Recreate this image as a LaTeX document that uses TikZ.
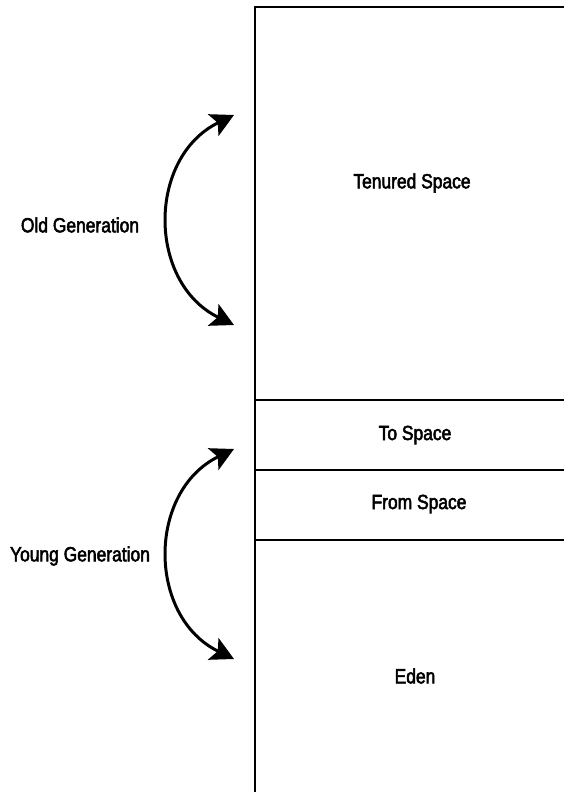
\documentclass[tikz,border=0pt]{standalone}
\usepackage{fontspec}
\setmainfont[FakeStretch=0.85, FakeBold=2.5]{Liberation Sans}
\usetikzlibrary{arrows.meta, positioning}

\begin{document}
\begin{tikzpicture}[
        x=1pt, y=-1pt,
        font=\fontsize{20.5}{24}\selectfont,
        >={Stealth[length=23pt, width=24pt, inset=5pt]},
        heap/.style={draw=black, line width=2pt},
        lbl/.style={inner sep=0pt, anchor=center},
        swing/.style={<->, line width=3pt, bend right=64, looseness=1.18}
    ]
        \useasboundingbox (0,0) rectangle (564,792);

        % heap outline, runs off the page right and below
        \draw[heap] (575,7.5) -- (254.5,7.5) -- (254.5,800);
        \draw[heap] (254.5,400) -- (575,400);
        \draw[heap] (254.5,470) -- (575,470);
        \draw[heap] (254.5,540) -- (575,540);

        \node[lbl] (tenured) at (412,183) {Tenured Space};
        \node[lbl] (toSpace) at (415,435) {To Space};
        \node[lbl] (fromSpace) at (419,504) {From Space};
        \node[lbl] (eden) at (415,676) {Eden};

        \node[lbl] (oldGen) at (80,225) {Old Generation};
        \node[lbl] (youngGen) at (80,556) {Young Generation};

        \coordinate (oldTop) at (234,115);
        \coordinate (oldBottom) at (234,325);
        \coordinate (youngTop) at (234,449);
        \coordinate (youngBottom) at (234,659);

        \draw[swing] (oldTop) to (oldBottom);
        \draw[swing] (youngTop) to (youngBottom);
    \end{tikzpicture}
\end{document}
